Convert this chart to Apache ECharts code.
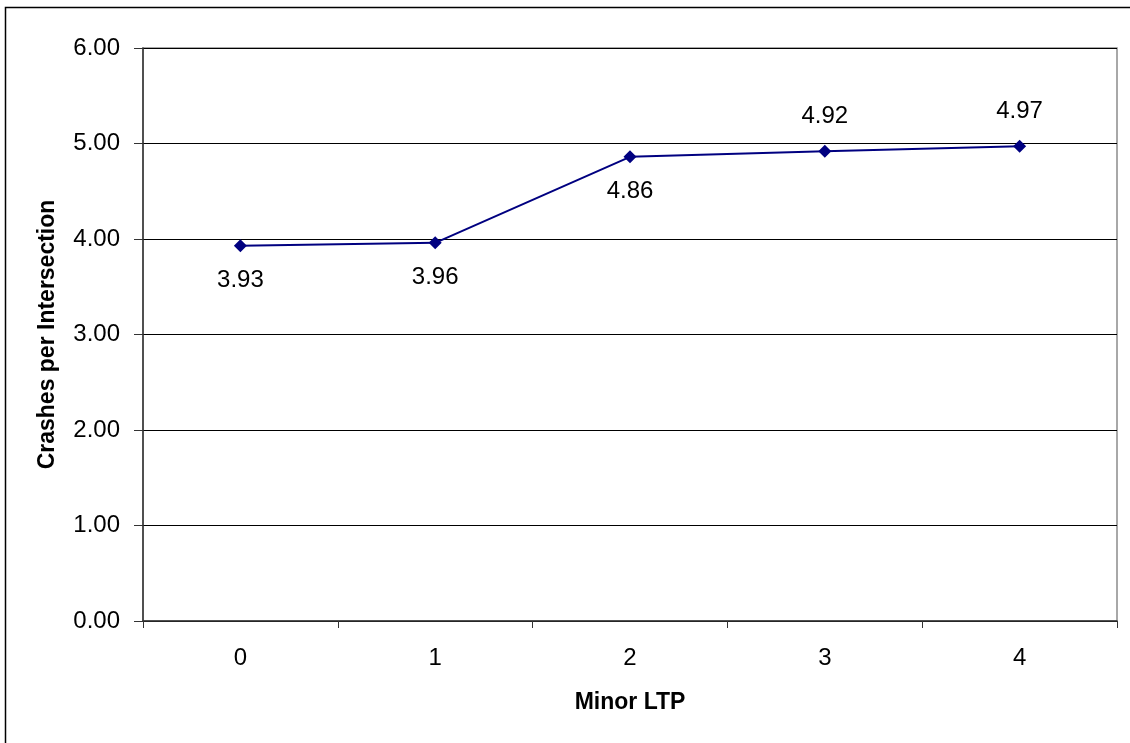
<!DOCTYPE html>
<html>
<head>
<meta charset="utf-8">
<script src="https://cdn.jsdelivr.net/npm/echarts@6/dist/echarts.min.js"></script>
<style>
html,body{margin:0;padding:0;background:#fff;}
#chart{width:1130px;height:743px;}
</style>
</head>
<body>
<div id="chart"></div>
<script>
var categories = ['0', '1', '2', '3', '4'];
var crashValues = [3.93, 3.96, 4.86, 4.92, 4.97];
var labelPositions = ['bottom', 'bottom', 'bottom', 'top', 'top'];
var yTicks = [0, 1, 2, 3, 4, 5, 6];

var FONT = '"Liberation Sans", Arial, sans-serif';
var chart = echarts.init(document.getElementById('chart'), null, {renderer: 'canvas'});

var seriesData = crashValues.map(function (v, i) {
  return {value: v, label: {position: labelPositions[i]}};
});

chart.setOption({
  backgroundColor: '#ffffff',
  animation: false,
  graphic: [{
    type: 'rect',
    shape: {x: 5.5, y: 7.5, width: 1200, height: 800},
    style: {fill: 'none', stroke: '#000', lineWidth: 1.5},
    silent: true
  }],
  grid: {
    left: 143, top: 48, right: 13, bottom: 122,
    show: true, borderColor: '#8c8c8c', borderWidth: 1.5,
    backgroundColor: 'transparent'
  },
  xAxis: {
    type: 'category',
    data: categories,
    boundaryGap: true,
    name: 'Minor LTP',
    nameLocation: 'middle',
    nameGap: 70,
    nameTextStyle: {fontFamily: FONT, fontSize: 23, fontWeight: 'bold', color: '#000'},
    axisLine: {lineStyle: {color: '#333', width: 1.5}},
    axisTick: {show: true, length: 7, alignWithLabel: false, lineStyle: {color: '#333', width: 1}},
    axisLabel: {fontFamily: FONT, fontSize: 24, color: '#000', margin: 25},
    splitLine: {show: false}
  },
  yAxis: {
    type: 'value',
    min: yTicks[0],
    max: yTicks[yTicks.length - 1],
    interval: 1,
    name: 'Crashes per Intersection',
    nameLocation: 'middle',
    nameGap: 84,
    nameTextStyle: {fontFamily: FONT, fontSize: 23, fontWeight: 'bold', color: '#000'},
    axisLine: {show: true, lineStyle: {color: '#333', width: 1.5}},
    axisTick: {show: true, length: 9, lineStyle: {color: '#333', width: 1}},
    axisLabel: {fontFamily: FONT, fontSize: 24, color: '#000', margin: 23,
      formatter: function (v) { return v.toFixed(2); }},
    splitLine: {show: true, lineStyle: {color: '#000', width: 1}}
  },
  series: [{
    type: 'line',
    data: seriesData,
    symbol: 'diamond',
    symbolSize: 13,
    lineStyle: {color: '#000080', width: 2},
    itemStyle: {color: '#000080'},
    label: {
      show: true,
      distance: 16,
      fontFamily: FONT,
      fontSize: 24,
      color: '#000',
      formatter: function (p) { return p.value.toFixed(2); }
    }
  }]
});
</script>
</body>
</html>
